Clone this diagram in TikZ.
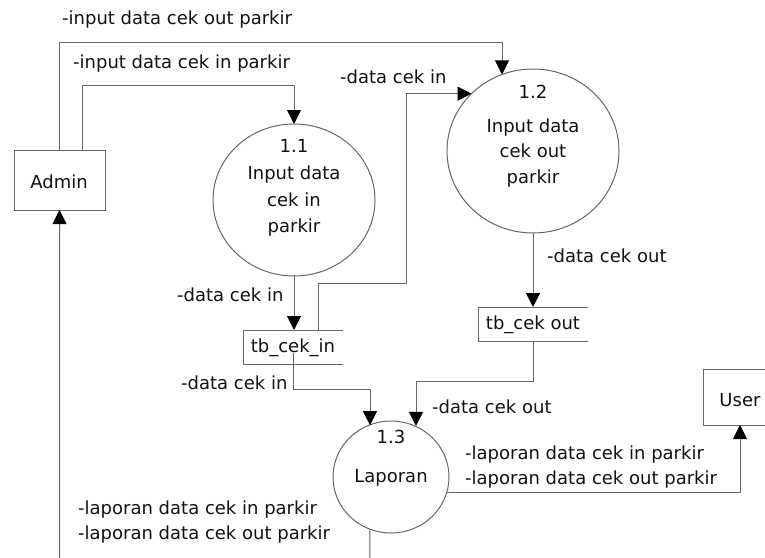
\documentclass[tikz,border=0pt]{standalone}
\usepackage{fontspec}
\setmainfont{DejaVu Sans}
\usetikzlibrary{arrows.meta,shapes.geometric}
\definecolor{lc}{HTML}{666666}
\definecolor{tc}{HTML}{111111}
\begin{document}
\begin{tikzpicture}[x=1pt,y=-1pt,
  every node/.style={text=tc, font=\fontsize{18}{25}\selectfont},
  ln/.style={draw=lc, line width=1pt},
  arr/.style={ln, -{Triangle[width=14pt,length=14pt,color=black]}},
  entity/.style={rectangle, draw=lc, line width=1pt, inner sep=0pt, outer sep=0pt},
  proc/.style={ellipse, draw=lc, line width=1pt, inner sep=0pt, outer sep=0pt},
  store/.style={rectangle, inner sep=0pt, outer sep=0pt},
  lbl/.style={anchor=west, inner sep=0pt, align=left},
  ptxt/.style={align=center, inner sep=0pt}]
\useasboundingbox (0,0) rectangle (765,557);
\clip (0,0) rectangle (765,557);

% entities
\node[entity, minimum width=91pt, minimum height=60pt] (admin) at (59.5,180) {};
\node (admint) at (59,182) {Admin};
\node[entity, minimum width=74pt, minimum height=56pt] (user) at (740,397) {};
\node (usert) at (740,400) {User};

% processes
\node[proc, minimum width=162pt, minimum height=152pt] (c11) at (294,200) {};
\node[ptxt, font=\fontsize{18}{26.8}\selectfont] (c11t) at (294,188) {1.1\\Input data\\cek in\\parkir};
\node[proc, minimum width=172pt, minimum height=164pt] (c12) at (533,151) {};
\node[ptxt, font=\fontsize{18}{25.5}\selectfont] (c12t) at (533,136) {1.2\\[8pt]Input data\\cek out\\parkir};
\node[proc, minimum width=116pt, minimum height=112pt] (c13) at (391,477) {};
\node[ptxt, font=\fontsize{18}{26}\selectfont] (c13t) at (391,458) {1.3\\[13pt]Laporan};

% data stores
\node[store, minimum width=100pt, minimum height=34pt] (tbin) at (293,347) {};
\draw[ln] (tbin.north east) -- (tbin.north west) -- (tbin.south west) -- (tbin.south east);
\node (tbint) at (293,348) {tb\_cek\_in};
\node[store, minimum width=110pt, minimum height=34pt] (tbout) at (533,324) {};
\draw[ln] (tbout.north east) -- (tbout.north west) -- (tbout.south west) -- (tbout.south east);
\node (tboutt) at (533,325) {tb\_cek out};

% flows
\draw[arr] (admin.north) |- (502,42) -- (502,42 |- c12.112);
\draw[arr] ([xshift=22.5pt]admin.north) |- (294,85) -- (c11.north);
\draw[arr] (c11.south) -- (c11.south |- tbin.north);
\draw[arr] ([xshift=25pt]tbin.north) |- (406,283) |- (c12.137);
\draw[arr] ([yshift=-6pt]tbin.center) |- (370,389) -- (370,389 |- c13.113);
\draw[arr] (c12.south) -- (tbout.north);
\draw[arr] (tbout.south) |- (416,381) -- (416,381 |- c13.65);
\draw[arr] (c13.-16) -| (user.south);
\draw[arr] (c13.-112) -- (370,600) -| (admin.south);

% labels
\node[lbl] (l1) at (62,20) {-input data cek out parkir};
\node[lbl] (l2) at (73,64) {-input data cek in parkir};
\node[lbl] (l3) at (340,77) {-data cek in};
\node[lbl] (l4) at (177,295) {-data cek in};
\node[lbl] (l5) at (547,256) {-data cek out};
\node[lbl] (l6) at (181,383) {-data cek in};
\node[lbl] (l7) at (432,407) {-data cek out};
\node[lbl] (l8) at (465,467.5) {-laporan data cek in parkir\\-laporan data cek out parkir};
\node[lbl] (l9) at (78,522.5) {-laporan data cek in parkir\\-laporan data cek out parkir};
\end{tikzpicture}
\end{document}
